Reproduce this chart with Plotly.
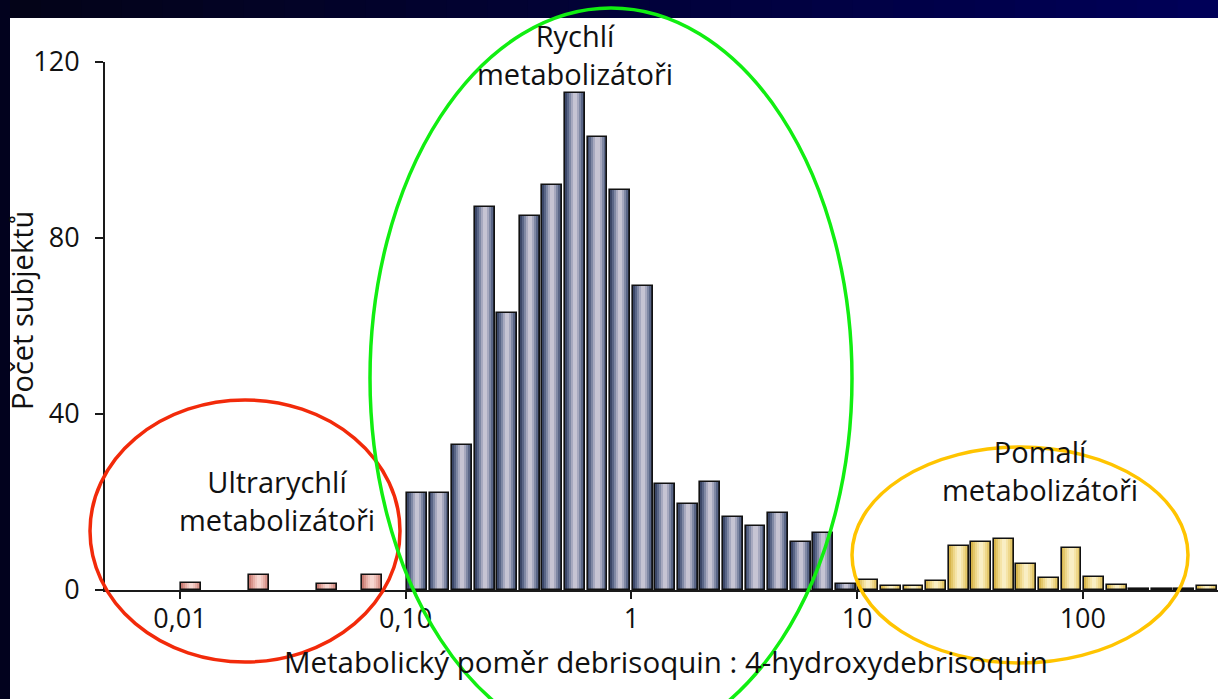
import plotly.graph_objects as go

# ---------------- data ----------------
# Histogram bins are 0.1 decade wide; positions are the log10 of each bin's lower edge.
ultra_bin_log10 = [-2.0, -1.7, -1.4, -1.2]
ultra_counts = [1.7, 3.3, 1.3, 3.5]

extensive_bin_log10 = [-1.0, -0.9, -0.8, -0.7, -0.6, -0.5, -0.4, -0.3, -0.2, -0.1,
                       0.0, 0.1, 0.2, 0.3, 0.4, 0.5, 0.6, 0.7, 0.8, 0.9]
extensive_counts = [22, 22, 33, 87, 63, 85, 92, 113, 103, 91,
                    69, 24, 19.5, 24.5, 16.5, 14.5, 17.5, 11, 13, 1.4]

poor_bin_log10 = [1.0, 1.1, 1.2, 1.3, 1.4, 1.5, 1.6, 1.7, 1.8, 1.9,
                  2.0, 2.1, 2.2, 2.3, 2.4, 2.5]
poor_counts = [2.2, 0.8, 0.9, 2.0, 10.0, 10.8, 11.5, 5.8, 2.8, 9.6,
               3.0, 1.1, 0.3, 0.3, 0.3, 1.0]

x_tick_log10 = [-2, -1, 0, 1, 2]
x_tick_text = ["0,01", "0,10", "1", "10", "100"]
y_tick_vals = [0, 40, 80, 120]

x_title = "Metabolický poměr debrisoquin : 4-hydroxydebrisoquin"
y_title = "Počet subjektů"
group_labels = ["Ultrarychlí<br>metabolizátoři", "Rychlí<br>metabolizátoři",
                "Pomalí<br>metabolizátoři"]

# ---------------- layout geometry ----------------
W, H = 1218, 699
ML, MR, MT, MB = 105, 0, 62, 109
PW, PH = W - ML - MR, H - MT - MB
BIN = 0.1
X_RANGE = [-2.332, 2.599]
FONT = "Open Sans"
LABEL_SIZE = 29
TITLE_SIZE = 29.5
TICK_SIZE = 27


def px(x, y):
    """pixel position -> paper coordinates"""
    return (x - ML) / PW, (H - MB - y) / PH


def centers(starts):
    return [s + BIN / 2 for s in starts]


fig = go.Figure()

# shaded "cylinder" bars: several overlaid layers, then an outline layer
shades = {
    "ultra": ["#c77a72", "#d8958c", "#e6aea6", "#f0c4bd", "#f6d6d0"],
    "ext": ["#3b4768", "#596586", "#7f88a4", "#a7a9bf", "#c6c4d3"],
    "poor": ["#d6b44c", "#e3c76a", "#eed78a", "#f5e4a8", "#f9eec4"],
}
fracs = [0.88, 0.72, 0.54, 0.36, 0.18]
series = [("ultra", ultra_bin_log10, ultra_counts),
          ("ext", extensive_bin_log10, extensive_counts),
          ("poor", poor_bin_log10, poor_counts)]

for key, starts, counts in series:
    xs = centers(starts)
    for f, col in zip(fracs, shades[key]):
        fig.add_trace(go.Bar(x=xs, y=counts, width=BIN * f,
                             marker=dict(color=col, line=dict(width=0)),
                             hoverinfo="skip", showlegend=False))
    fig.add_trace(go.Bar(x=xs, y=counts, width=BIN * fracs[0],
                         marker=dict(color="rgba(0,0,0,0)",
                                     line=dict(color="#111111", width=1.6)),
                         showlegend=False))

shapes = []
# dark navy slide frame (top band gradient + left band)
steps = 30
for i in range(steps):
    t = i / (steps - 1)
    r = int(4 * (1 - t))
    b = int(24 + (88 - 24) * t)
    x0p, y0p = px(W * i / steps, -2)
    x1p, y1p = px(W * (i + 1) / steps + 1, 18)
    shapes.append(dict(type="rect", xref="paper", yref="paper",
                       x0=x0p, x1=x1p, y0=y1p, y1=y0p,
                       fillcolor=f"rgb({r},{r},{b})", line=dict(width=0),
                       layer="below"))
lx0, ly0 = px(-2, -2)
lx1, ly1 = px(10, H + 5)
shapes.append(dict(type="rect", xref="paper", yref="paper",
                   x0=lx0, x1=lx1, y0=ly1, y1=ly0,
                   fillcolor="#02021e", line=dict(width=0), layer="below"))

# group ellipses
ellipses = [((90, 400), (400, 662), "#f22a0a"),
            ((370, 8), (852, 748), "#11ee11"),
            ((852, 447), (1188, 663), "#ffc400")]
for (x0, y0), (x1, y1), col in ellipses:
    a0, b0 = px(x0, y1)
    a1, b1 = px(x1, y0)
    shapes.append(dict(type="circle", xref="paper", yref="paper",
                       x0=a0, x1=a1, y0=b0, y1=b1,
                       line=dict(color=col, width=3.5), layer="above"))

annotations = []
label_pos = [(277, 500), (575, 54), (1040, 470)]
for txt, (x, y) in zip(group_labels, label_pos):
    ax, ay = px(x, y)
    annotations.append(dict(text=txt, x=ax, y=ay, xref="paper", yref="paper",
                            showarrow=False, xanchor="center", yanchor="middle",
                            font=dict(family=FONT, size=LABEL_SIZE, color="#111111")))
ax, ay = px(666, 661)
annotations.append(dict(text=x_title, x=ax, y=ay, xref="paper", yref="paper",
                        showarrow=False, xanchor="center", yanchor="middle",
                        font=dict(family=FONT, size=TITLE_SIZE, color="#111111")))
ax, ay = px(21, 311)
annotations.append(dict(text=y_title, x=ax, y=ay, xref="paper", yref="paper",
                        showarrow=False, xanchor="center", yanchor="middle",
                        textangle=-90,
                        font=dict(family=FONT, size=LABEL_SIZE, color="#111111")))

fig.update_layout(
    width=W, height=H,
    margin=dict(l=ML, r=MR, t=MT, b=MB, pad=0),
    paper_bgcolor="white", plot_bgcolor="white",
    barmode="overlay", bargap=0,
    showlegend=False,
    shapes=shapes, annotations=annotations,
    font=dict(family=FONT, color="#111111"),
)
fig.update_xaxes(range=X_RANGE, tickmode="array", tickvals=x_tick_log10,
                 ticktext=x_tick_text, showgrid=False, zeroline=False,
                 showline=True, linecolor="#1a1a1a", linewidth=2,
                 ticks="outside", ticklen=7, tickwidth=1.5, tickcolor="#1a1a1a",
                 tickfont=dict(family=FONT, size=TICK_SIZE, color="#111111"),
                 ticklabelstandoff=-3)
fig.update_yaxes(range=[0, 120], tickmode="array", tickvals=y_tick_vals,
                 showgrid=False, zeroline=False,
                 showline=True, linecolor="#1a1a1a", linewidth=2,
                 ticks="outside", ticklen=8, tickwidth=1.5, tickcolor="#1a1a1a",
                 tickfont=dict(family=FONT, size=TICK_SIZE, color="#111111"),
                 ticklabelstandoff=10)

fig.write_html("out.html",
               config={"displayModeBar": False},
               post_script="document.body.style.margin='0';"
                           "document.body.style.overflow='hidden';")
